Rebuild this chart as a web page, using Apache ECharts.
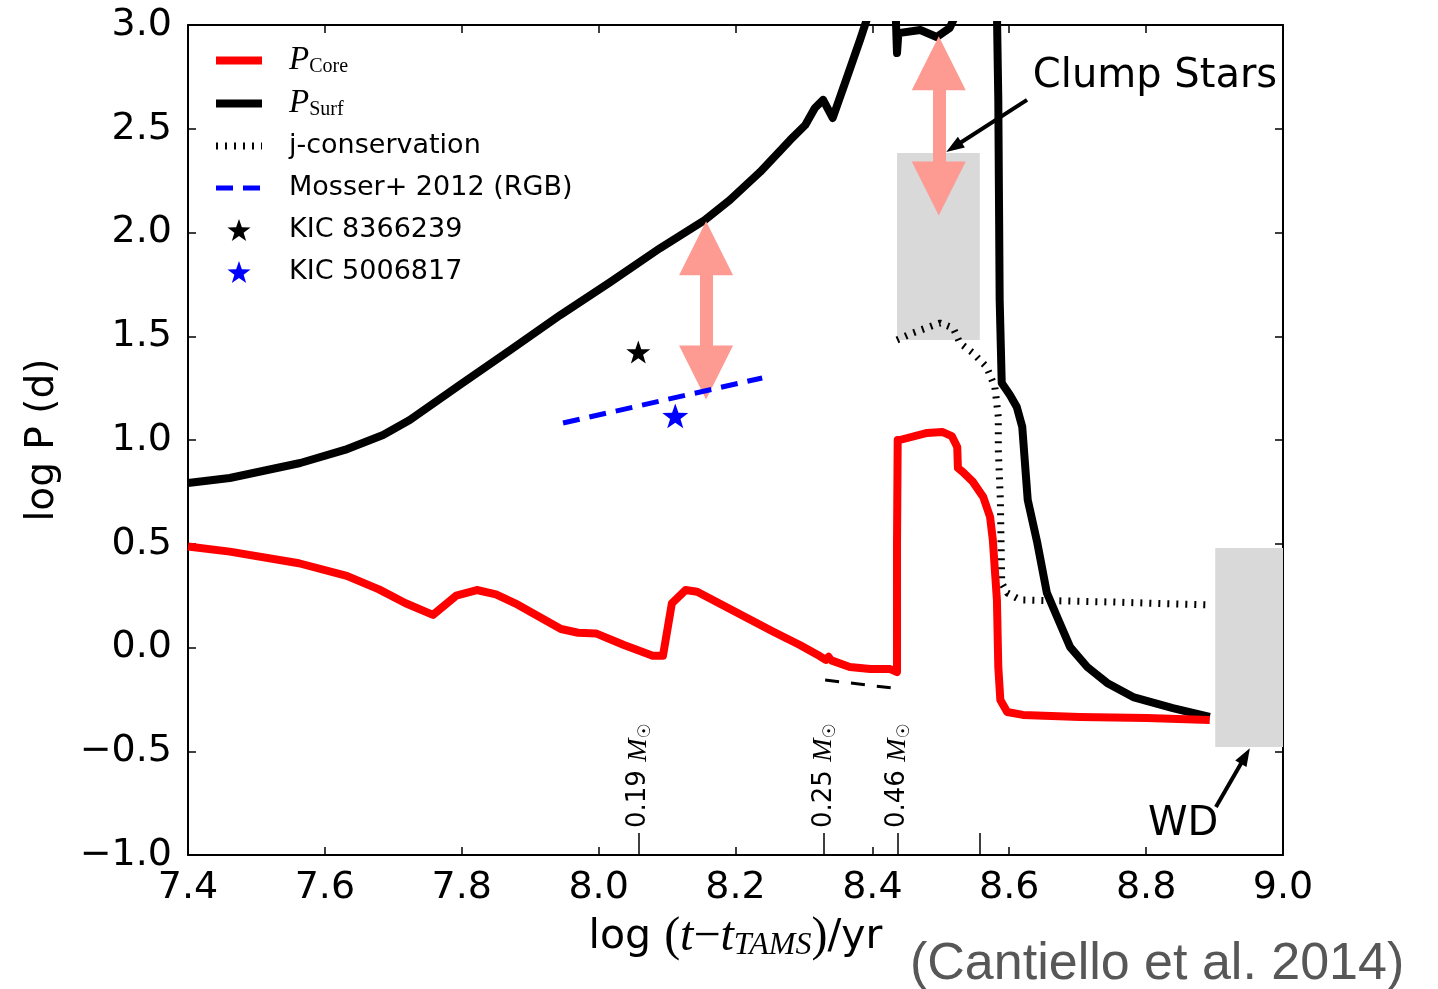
<!DOCTYPE html>
<html><head><meta charset="utf-8">
<script src="https://cdn.jsdelivr.net/npm/echarts@6/dist/echarts.min.js"></script>
<style>html,body{margin:0;padding:0;background:#fff}#c{width:1438px;height:989px}</style>
</head><body><div id="c"></div>
<script>
// ---- axis settings ----
const X_MIN = 7.4, X_MAX = 9.0, X_STEP = 0.2;
const Y_MIN = -1.0, Y_MAX = 3.0, Y_STEP = 0.5;

// ---- series data [log(t - t_TAMS), log P] ----
const pCore = [[7.400,0.487],[7.461,0.462],[7.562,0.406],[7.632,0.345],[7.679,0.280],[7.718,0.213],[7.758,0.157],[7.792,0.250],[7.822,0.277],[7.850,0.256],[7.878,0.213],[7.945,0.089],[7.970,0.071],[7.996,0.068],[8.037,0.012],[8.079,-0.040],[8.094,-0.040],[8.107,0.213],[8.127,0.277],[8.144,0.269],[8.217,0.142],[8.256,0.075],[8.294,0.012],[8.323,-0.041],[8.332,-0.060],[8.336,-0.045],[8.340,-0.062],[8.367,-0.094],[8.397,-0.104],[8.426,-0.104],[8.436,-0.118],[8.436,0.500],[8.437,1.000],[8.440,1.000],[8.480,1.034],[8.502,1.039],[8.516,1.019],[8.524,0.966],[8.525,0.865],[8.532,0.846],[8.547,0.798],[8.562,0.725],[8.572,0.629],[8.576,0.518],[8.582,0.229],[8.584,-0.094],[8.587,-0.253],[8.597,-0.311],[8.620,-0.325],[8.703,-0.335],[8.801,-0.340],[8.893,-0.349]];
const pSurfRGB = [[7.400,0.793],[7.461,0.817],[7.564,0.889],[7.629,0.952],[7.685,1.024],[7.724,1.096],[7.797,1.265],[7.871,1.434],[7.944,1.602],[8.017,1.761],[8.090,1.925],[8.155,2.060],[8.192,2.157],[8.236,2.292],[8.280,2.446],[8.302,2.518],[8.316,2.600],[8.328,2.639],[8.342,2.552],[8.363,2.749],[8.382,2.928],[8.394,3.048]];
const pSurfFlash = [[8.434,3.06],[8.436,2.865],[8.438,2.961],[8.470,2.976],[8.494,2.942],[8.513,2.986],[8.522,3.05]];
const pSurfLate = [[8.582,3.06],[8.584,2.639],[8.585,2.157],[8.586,1.675],[8.589,1.275],[8.601,1.217],[8.611,1.159],[8.619,1.063],[8.627,0.711],[8.641,0.504],[8.655,0.263],[8.670,0.147],[8.689,0.002],[8.714,-0.094],[8.743,-0.171],[8.781,-0.239],[8.839,-0.292],[8.893,-0.335]];
const jConservation = [[8.436,1.482],[8.459,1.516],[8.499,1.564],[8.518,1.540],[8.528,1.467],[8.547,1.419],[8.567,1.352],[8.579,1.255],[8.584,1.111],[8.584,0.952],[8.587,0.711],[8.589,0.311],[8.597,0.263],[8.616,0.229],[8.752,0.219],[8.893,0.205]];
const mosser2012 = [[7.948,1.082],[8.239,1.299]];
const coreDashed = [[8.331,-0.157],[8.429,-0.195]];
const kic8366239 = [[8.058,1.424]];
const kic5006817 = [[8.112,1.116]];

// ---- mass markers on the bottom axis ----
const massTickVals = [8.0586, 8.329, 8.437, 8.557];
const massLabelVals = [8.0586, 8.329, 8.437];
const massLabels = ['0.19', '0.25', '0.46'];

// ---- shaded regions [x0, x1, y0, y1] ----
const clumpBox = [8.436, 8.557, 1.482, 2.383];
const wdBox = [8.901, 9.0, -0.480, 0.480];

// ---- double arrows (head centres) [x, yTop, yBottom] ----
const doubleArrows = [[8.157, 1.924, 1.325], [8.497, 2.816, 2.212]];
// ---- annotation arrows [[x0,y0],[x1,y1]] ----
const noteArrows = [[[8.626, 2.639], [8.519, 2.412]], [[8.902, -0.769], [8.945, -0.523]]];
// ---- annotation texts [x, y, text] ----
const noteTexts = [[8.813, 2.749, 'Clump Stars'], [8.854, -0.855, 'WD']];

const STAR = 'path://M0,-10L2.35,-3.24L9.51,-3.09L3.8,1.24L5.88,8.09L0,4L-5.88,8.09L-3.8,1.24L-9.51,-3.09L-2.35,-3.24Z';
const SANS = 'DejaVu Sans';
const SERIF = 'Liberation Serif';
const fmt1 = v => (v < 0 ? '\u2212' + Math.abs(v).toFixed(1) : v.toFixed(1));

const chart = echarts.init(document.getElementById('c'), null, {renderer: 'canvas'});

const frameAxisLine = {show: true, onZero: false, lineStyle: {color: '#000', width: 2}};
const tickIn = {show: true, inside: true, length: 8, lineStyle: {color: '#000', width: 1.5}};
const noSym = {opacity: 0};

const option = {
  backgroundColor: '#fff',
  animation: false,
  grid: {left: 188, right: 155, top: 25, bottom: 134, containLabel: false, outerBoundsMode: 'none'},
  legend: {
    orient: 'vertical', left: 207, top: 39, itemWidth: 46, itemHeight: 22, itemGap: 10,
    selectedMode: false,
    data: [
      {name: 'P_Core', itemStyle: noSym},
      {name: 'P_Surf', itemStyle: noSym},
      {name: 'j-conservation', itemStyle: noSym},
      {name: 'Mosser+ 2012 (RGB)', itemStyle: noSym},
      {name: 'KIC 8366239'},
      {name: 'KIC 5006817'}
    ],
    lineStyle: {width: 'inherit'},
    formatter: function (name) {
      if (name === 'P_Core') return '{p|P}{s|Core}';
      if (name === 'P_Surf') return '{p|P}{s|Surf}';
      return '{t|' + name + '}';
    },
    textStyle: {
      fontFamily: SANS, fontSize: 27, lineHeight: 32, color: '#000', padding: [0, 0, 0, 22],
      rich: {
        p: {fontFamily: SERIF, fontStyle: 'italic', fontSize: 33, lineHeight: 32, color: '#000'},
        s: {fontFamily: SERIF, fontSize: 20, lineHeight: 20, padding: [12, 0, 0, 0], color: '#000'},
        t: {fontFamily: SANS, fontSize: 27, lineHeight: 32, color: '#000'}
      }
    }
  },
  xAxis: [
    {
      type: 'value', gridIndex: 0, position: 'bottom', min: X_MIN, max: X_MAX, interval: X_STEP,
      axisLine: frameAxisLine, axisTick: tickIn, splitLine: {show: false},
      axisLabel: {fontFamily: SANS, fontSize: 38, color: '#000', margin: 14, formatter: fmt1},
      name: 'log {r|(}{i|t}{r|\u2212}{i|t}{s|TAMS}{r|)}/yr', nameLocation: 'middle', nameGap: 57,
      nameTextStyle: {
        fontFamily: SANS, fontSize: 41, color: '#000',
        rich: {
          r: {fontFamily: SERIF, fontSize: 48, color: '#000'},
          i: {fontFamily: SERIF, fontStyle: 'italic', fontSize: 48, color: '#000'},
          s: {fontFamily: SERIF, fontStyle: 'italic', fontSize: 32, padding: [18, 0, 0, 0], color: '#000'}
        }
      }
    },
    {
      type: 'value', gridIndex: 0, position: 'top', min: X_MIN, max: X_MAX, interval: X_STEP,
      axisLine: frameAxisLine, axisTick: tickIn, axisLabel: {show: false}, splitLine: {show: false}
    },
    {
      type: 'value', gridIndex: 0, position: 'bottom', min: X_MIN, max: X_MAX,
      axisLine: {show: false, onZero: false}, splitLine: {show: false},
      axisTick: {show: true, inside: true, length: 22, customValues: massTickVals, lineStyle: {color: '#000', width: 1.5}},
      axisLabel: {
        show: true, inside: true, rotate: 90, margin: 27, customValues: massLabelVals,
        formatter: function (v) {
          let k = 0, best = 1e9;
          massLabelVals.forEach((m, i) => { if (Math.abs(m - v) < best) { best = Math.abs(m - v); k = i; } });
          return '{n|' + massLabels[k] + ' }{m|M}{o|\u2609}';
        },
        rich: {
          n: {fontFamily: SANS, fontSize: 26, color: '#000'},
          m: {fontFamily: SERIF, fontStyle: 'italic', fontSize: 28, color: '#000'},
          o: {fontFamily: SANS, fontSize: 17, padding: [14, 0, 0, 0], color: '#000'}
        }
      }
    }
  ],
  yAxis: [
    {
      type: 'value', gridIndex: 0, position: 'left', min: Y_MIN, max: Y_MAX, interval: Y_STEP,
      axisLine: frameAxisLine, axisTick: tickIn, splitLine: {show: false},
      axisLabel: {fontFamily: SANS, fontSize: 38, color: '#000', margin: 16, formatter: fmt1},
      name: 'log P (d)', nameLocation: 'middle', nameGap: 126,
      nameTextStyle: {fontFamily: SANS, fontSize: 39, color: '#000'}
    },
    {
      type: 'value', gridIndex: 0, position: 'right', min: Y_MIN, max: Y_MAX, interval: Y_STEP,
      axisLine: frameAxisLine, axisTick: tickIn, axisLabel: {show: false}, splitLine: {show: false}
    }
  ],
  graphic: [{
    type: 'text', left: 910, top: 939,
    style: {text: '(Cantiello et al. 2014)', font: '52px "Liberation Sans"', fill: '#575757'}
  }],
  series: [
    {
      name: 'regions', type: 'line', data: [], z: 1, silent: true,
      markArea: {
        silent: true,
        itemStyle: {color: '#d9d9d9'},
        label: {show: false},
        data: [clumpBox, wdBox].map(b => [{coord: [b[0], b[3]]}, {coord: [b[1], b[2]]}])
      }
    },
    {
      name: 'j-conservation', type: 'line', data: jConservation, symbol: 'none', z: 3,
      color: '#000', lineStyle: {color: '#000', width: 7, type: [2, 7]}
    },
    {
      name: 'P_Surf', type: 'line', data: pSurfRGB, symbol: 'none', z: 4,
      color: '#000', lineStyle: {color: '#000', width: 8, join: 'round'}
    },
    {
      name: 'P_Surf', type: 'line', data: pSurfFlash, symbol: 'none', z: 4,
      color: '#000', lineStyle: {color: '#000', width: 8, join: 'round', cap: 'round'}
    },
    {
      name: 'P_Surf', type: 'line', data: pSurfLate, symbol: 'none', z: 4,
      color: '#000', lineStyle: {color: '#000', width: 8, join: 'round'}
    },
    {
      name: 'P_Core', type: 'line', data: pCore, symbol: 'none', z: 5,
      color: '#ff0000', lineStyle: {color: '#ff0000', width: 8, join: 'round'}
    },
    {
      name: 'core-dashed', type: 'line', data: coreDashed, symbol: 'none', z: 5,
      color: '#000', lineStyle: {color: '#000', width: 3, type: [14, 12]}
    },
    {
      name: 'Mosser+ 2012 (RGB)', type: 'line', data: mosser2012, symbol: 'none', z: 6,
      color: '#0000ff', lineStyle: {color: '#0000ff', width: 5, type: [17, 10]}
    },
    {
      name: 'KIC 8366239', type: 'scatter', data: kic8366239, symbol: STAR, symbolSize: 24,
      symbolKeepAspect: true, z: 7, color: '#000', itemStyle: {color: '#000', opacity: 1}
    },
    {
      name: 'KIC 5006817', type: 'scatter', data: kic5006817, symbol: STAR, symbolSize: 26,
      symbolKeepAspect: true, z: 7, color: '#0000ff', itemStyle: {color: '#0000ff', opacity: 1}
    },
    {
      name: 'double-arrows', type: 'line', data: [], z: 8, silent: true,
      markLine: {
        silent: true, animation: false, label: {show: false}, emphasis: {disabled: true},
        symbol: ['triangle', 'triangle'], symbolSize: 54,
        lineStyle: {color: '#fd9a92', width: 13, type: 'solid', opacity: 1},
        data: doubleArrows.map(a => [{coord: [a[0], a[1]]}, {coord: [a[0], a[2]]}])
      }
    },
    {
      name: 'note-arrows', type: 'line', data: [], z: 9, silent: true,
      markLine: {
        silent: true, animation: false, label: {show: false}, emphasis: {disabled: true},
        symbol: ['none', 'triangle'], symbolSize: [13, 18],
        lineStyle: {color: '#000', width: 4, type: 'solid', opacity: 1},
        data: noteArrows.map(a => [{coord: a[0]}, {coord: a[1]}])
      }
    },
    {
      name: 'notes', type: 'scatter', z: 10, silent: true, symbolSize: 1,
      itemStyle: {color: 'rgba(0,0,0,0)', opacity: 1},
      data: noteTexts.map(t => ({value: [t[0], t[1]], label: {formatter: t[2], color: '#000'}})),
      label: {show: true, position: 'inside', fontFamily: SANS, fontSize: 40, color: '#000', opacity: 1}
    }
  ]
};
chart.setOption(option);
</script>
</body></html>
